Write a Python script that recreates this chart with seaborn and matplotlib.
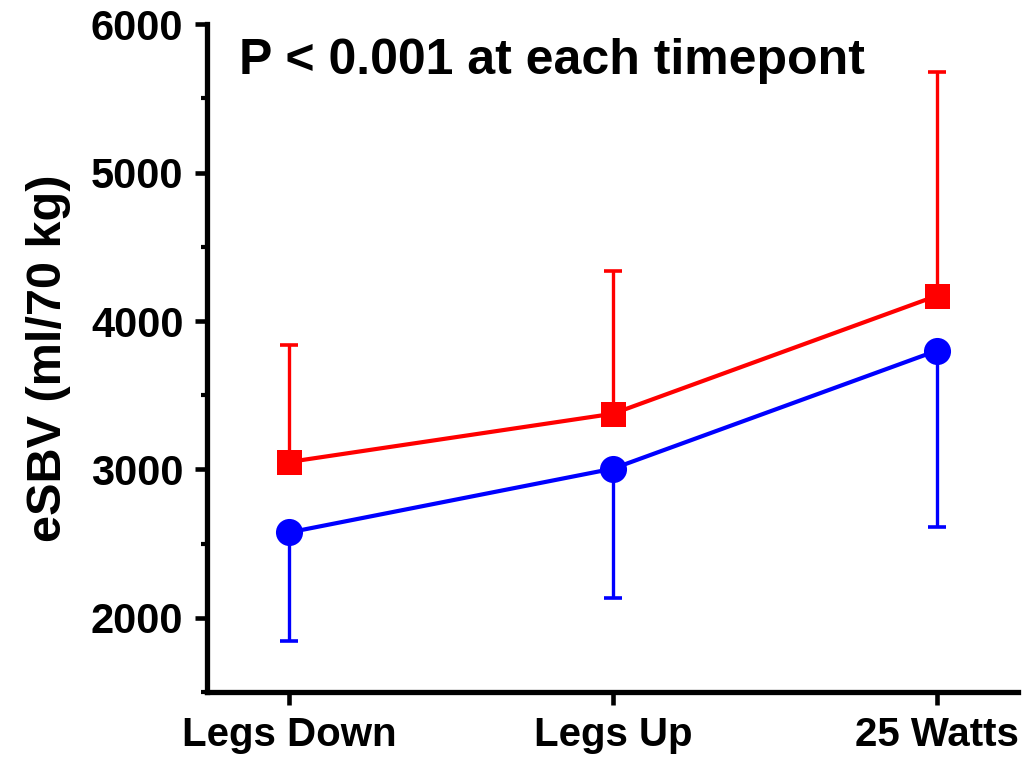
import numpy as np
import pandas as pd
import matplotlib
matplotlib.use("Agg")
import matplotlib.pyplot as plt
import seaborn as sns
from matplotlib.ticker import MultipleLocator

sns.set_style("ticks")
plt.rcParams["font.family"] = ["Liberation Sans", "DejaVu Sans"]
plt.rcParams["font.weight"] = "bold"
plt.rcParams["text.color"] = "black"
plt.rcParams["xtick.color"] = "black"
plt.rcParams["ytick.color"] = "black"
plt.rcParams["axes.labelcolor"] = "black"

conditions = ["Legs Down", "Legs Up", "25 Watts"]
group_red_mean = [3050, 3375, 4170]
group_red_sd = [790, 960, 1510]
group_blue_mean = [2575, 3005, 3800]
group_blue_sd = [730, 870, 1190]

df = pd.DataFrame({
    "condition": conditions * 2,
    "esbv": group_red_mean + group_blue_mean,
    "group": ["red"] * 3 + ["blue"] * 3,
})
x_pos = {c: i for i, c in enumerate(conditions)}
df["x"] = df["condition"].map(x_pos)

fig = plt.figure(figsize=(10.28, 7.58), dpi=100)
ax = fig.add_axes([0.2014, 0.0871, 0.7886, 0.8809])

palette = {"red": "#ff0000", "blue": "#0000ff"}
markers = {"red": "s", "blue": "o"}
sizes = {"red": 18, "blue": 19.5}

# one-sided error bars: red upwards, blue downwards
xs = np.arange(len(conditions))
ax.errorbar(xs, group_red_mean, yerr=[np.zeros(3), group_red_sd], fmt="none",
            ecolor=palette["red"], elinewidth=2.4, capsize=6.5, capthick=2.6, zorder=2)
ax.errorbar(xs, group_blue_mean, yerr=[group_blue_sd, np.zeros(3)], fmt="none",
            ecolor=palette["blue"], elinewidth=2.4, capsize=6.5, capthick=2.6, zorder=2)

for g in ["red", "blue"]:
    sub = df[df["group"] == g]
    sns.lineplot(data=sub, x="x", y="esbv", ax=ax, color=palette[g],
                 marker=markers[g], markersize=sizes[g], markeredgewidth=0,
                 linewidth=3, legend=False, zorder=3)

ax.set_xlim(-0.253, 2.25)
ax.set_ylim(1500, 6000)
ax.set_xticks(xs)
ax.set_xticklabels(conditions)
ax.yaxis.set_major_locator(MultipleLocator(1000))
ax.yaxis.set_minor_locator(MultipleLocator(500))
ax.set_yticks([2000, 3000, 4000, 5000, 6000])

for side in ["top", "right"]:
    ax.spines[side].set_visible(False)
for side in ["left", "bottom"]:
    ax.spines[side].set_linewidth(3.8)
    ax.spines[side].set_color("black")

ax.tick_params(axis="both", which="major", length=9, width=3.3, color="black",
               labelcolor="black", pad=8)
ax.tick_params(axis="y", which="major", labelsize=30)
ax.tick_params(axis="x", which="major", labelsize=29)
ax.tick_params(axis="y", which="minor", length=4.5, width=3, color="black")
for lab in ax.get_xticklabels() + ax.get_yticklabels():
    lab.set_fontweight("bold")

ax.set_xlabel("")
ax.set_ylabel("eSBV (ml/70 kg)", fontsize=35, fontweight="bold", color="black")
ax.yaxis.set_label_coords(-0.168, 0.5)

ax.text(0.04, 0.98, "P < 0.001 at each timepont", transform=ax.transAxes,
        fontsize=36, fontweight="bold", va="top", ha="left", color="black")

fig.savefig("out.png", dpi=100)
